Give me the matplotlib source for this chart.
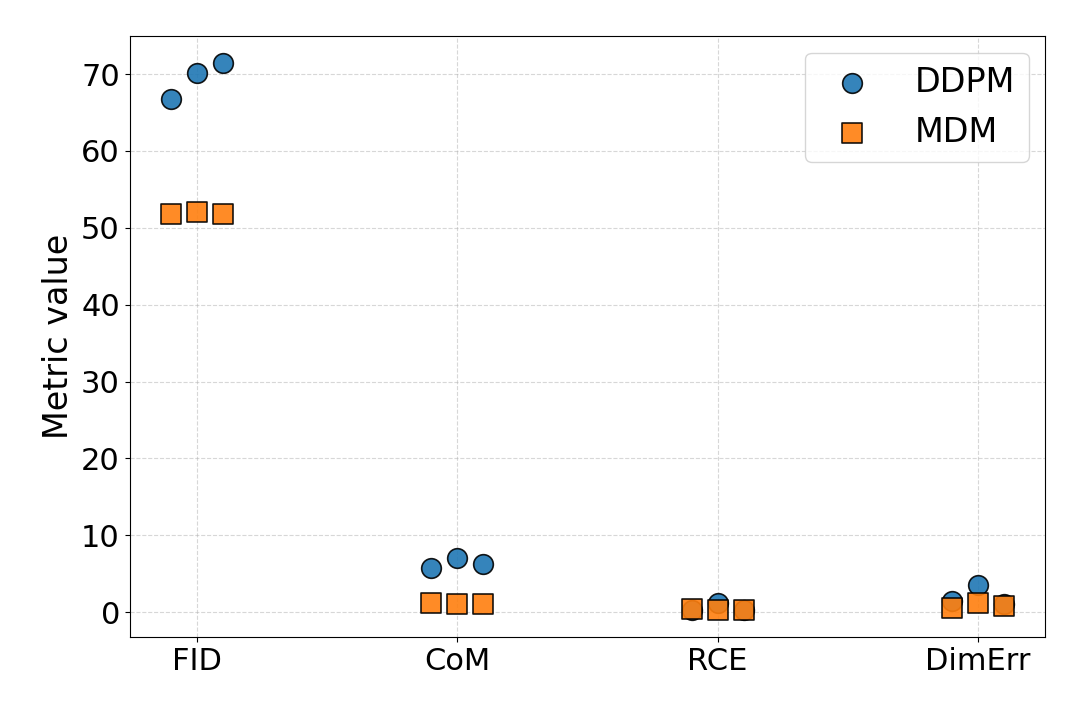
import numpy as np
import matplotlib
matplotlib.use("Agg")
import matplotlib.pyplot as plt

metricas = ["FID", "CoM", "RCE", "DimErr"]
deslocamentos = [-0.1, 0.0, 0.1]

ddpm = [
    [66.8, 70.2, 71.4],
    [5.8, 7.1, 6.3],
    [0.3, 1.2, 0.3],
    [1.4, 3.6, 1.0],
]
mdm = [
    [51.8, 52.0, 51.8],
    [1.2, 1.1, 1.1],
    [0.4, 0.3, 0.3],
    [0.5, 1.2, 0.8],
]

fig, ax = plt.subplots(figsize=(10.8, 7.2), dpi=100)

x = np.arange(len(metricas))
for i in range(len(metricas)):
    xs = [x[i] + d for d in deslocamentos]
    ax.scatter(xs, ddpm[i], s=200, marker="o", color="#1f77b4", edgecolor="black",
               linewidth=1.2, alpha=0.9, zorder=3, label="DDPM" if i == 0 else None)
    ax.scatter(xs, mdm[i], s=200, marker="s", color="#ff7f0e", edgecolor="black",
               linewidth=1.2, alpha=0.9, zorder=3, label="MDM" if i == 0 else None)

ax.set_xticks(x)
ax.set_xticklabels(metricas, fontsize=22)
ax.tick_params(axis="y", labelsize=22)
ax.set_ylabel("Metric value", fontsize=24)
ax.grid(True, linestyle="--", alpha=0.5)
ax.legend(fontsize=24, loc="upper right", handletextpad=0.9)

plt.subplots_adjust(left=0.12, right=0.968, top=0.95, bottom=0.115)
plt.savefig("out.png")
